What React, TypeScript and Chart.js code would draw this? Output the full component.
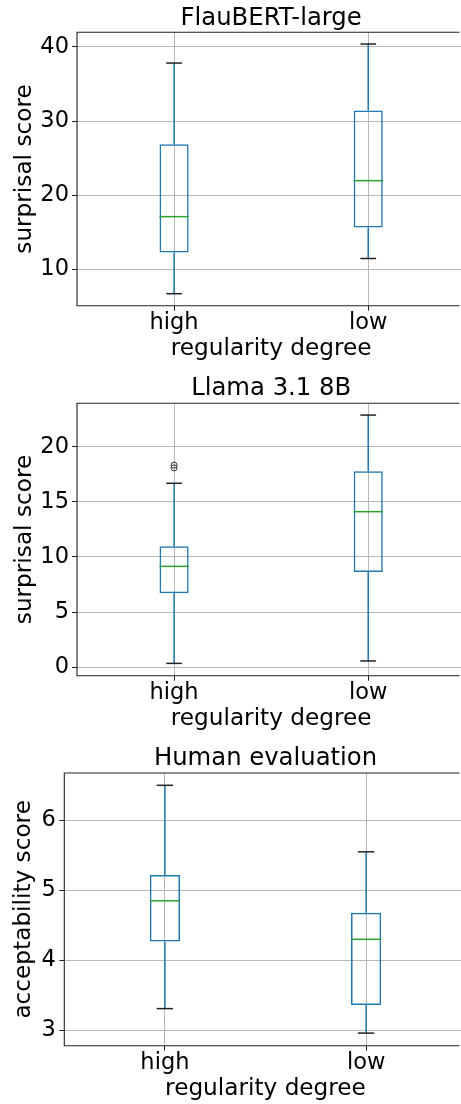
import React, { useEffect, useRef } from "react";
import { Chart, registerables } from "chart.js";

Chart.register(...registerables);

// ---------- data ----------
const CATEGORIES = ["high", "low"];
const X_TITLE = "regularity degree";

const FLAU_TITLE = "FlauBERT-large";
const FLAU_Y_TITLE = "surprisal score";
const FLAU_WHISKER_LOW = [6.7, 11.45];
const FLAU_Q1 = [12.26, 15.64];
const FLAU_MEDIAN = [17.1, 21.96];
const FLAU_Q3 = [26.87, 31.43];
const FLAU_WHISKER_HIGH = [37.83, 40.4];
const FLAU_OUTLIERS: number[][] = [[], []];
const FLAU_TICKS = [10, 20, 30, 40];
const FLAU_Y_RANGE = [5.08, 41.98];

const LLAMA_TITLE = "Llama 3.1 8B";
const LLAMA_Y_TITLE = "surprisal score";
const LLAMA_WHISKER_LOW = [0.33, 0.55];
const LLAMA_Q1 = [6.7, 8.64];
const LLAMA_MEDIAN = [9.15, 14.12];
const LLAMA_Q3 = [10.97, 17.79];
const LLAMA_WHISKER_HIGH = [16.7, 22.9];
const LLAMA_OUTLIERS: number[][] = [[18.1, 18.35], []];
const LLAMA_TICKS = [0, 5, 10, 15, 20];
const LLAMA_Y_RANGE = [-0.79, 23.97];

const HUMAN_TITLE = "Human evaluation";
const HUMAN_Y_TITLE = "acceptability score";
const HUMAN_WHISKER_LOW = [3.31, 2.96];
const HUMAN_Q1 = [4.27, 3.36];
const HUMAN_MEDIAN = [4.85, 4.3];
const HUMAN_Q3 = [5.22, 4.68];
const HUMAN_WHISKER_HIGH = [6.5, 5.55];
const HUMAN_OUTLIERS: number[][] = [[], []];
const HUMAN_TICKS = [3, 4, 5, 6];
const HUMAN_Y_RANGE = [2.78, 6.676];

// ---------- styling ----------
const FONT = "'DejaVu Sans', 'Liberation Sans', sans-serif";
const BLUE = "#1f77b4";
const GREEN = "#2ca02c";
const GRID = "#b8b8b8";
const SPINE = "#222222";
const CANVAS_W = 480;
const VISIBLE_W = 461;
const TICK_SIZE = 22.5;
const LABEL_SIZE = 23.2;
const TITLE_SIZE = 24.3;
const MID_K = 0.32;

type PanelData = {
  title: string;
  yTitle: string;
  low: number[];
  q1: number[];
  med: number[];
  q3: number[];
  high: number[];
  outliers: number[][];
  ticks: number[];
  range: number[];
};

type PanelLayout = {
  top: number;
  height: number;
  chartTop: number;
  chartBottom: number;
  chartLeft: number;
  chartRight: number;
  titleBaseline: number;
  yTitleMid: number;
  yTickPad: number;
};

function BoxPanel({ data, layout }: { data: PanelData; layout: PanelLayout }) {
  const ref = useRef<HTMLCanvasElement>(null);

  useEffect(() => {
    if (!ref.current) return;
    const L = layout;
    const d = data;
    const titleMid = L.titleBaseline - MID_K * TITLE_SIZE;
    const titlePadTop = titleMid - TITLE_SIZE / 2;
    const titlePadBottom = L.chartTop - titlePadTop - TITLE_SIZE;
    const xTitleMid = 50.3 - MID_K * LABEL_SIZE;
    const xScaleH = xTitleMid + (LABEL_SIZE * 1.2) / 2;
    const xTickMid = 25 - MID_K * TICK_SIZE;
    const xTickLen = 5;
    const xTickPad = xTickMid - (TICK_SIZE * 1.2) / 2 - xTickLen;

    const outlierPoints: { x: string; y: number }[] = [];
    d.outliers.forEach((arr, i) =>
      arr.forEach((v) => outlierPoints.push({ x: CATEGORIES[i], y: v }))
    );

    const boxParts = {
      id: "boxParts",
      afterDatasetsDraw(chart: any) {
        const ctx = chart.ctx as CanvasRenderingContext2D;
        const xs = chart.scales.x;
        const ys = chart.scales.y;
        const meta = chart.getDatasetMeta(0);
        const line = (x1: number, y1: number, x2: number, y2: number) => {
          ctx.beginPath();
          ctx.moveTo(x1, y1);
          ctx.lineTo(x2, y2);
          ctx.stroke();
        };
        ctx.save();
        CATEGORIES.forEach((_, i) => {
          const cx = xs.getPixelForValue(i);
          const bw = meta.data[i].width;
          const pHi = ys.getPixelForValue(d.high[i]);
          const pQ3 = ys.getPixelForValue(d.q3[i]);
          const pMed = ys.getPixelForValue(d.med[i]);
          const pQ1 = ys.getPixelForValue(d.q1[i]);
          const pLo = ys.getPixelForValue(d.low[i]);
          ctx.lineWidth = 1.5;
          ctx.strokeStyle = BLUE;
          line(cx, pQ3, cx, pHi);
          line(cx, pQ1, cx, pLo);
          ctx.strokeStyle = "#222222";
          line(cx - bw * 0.27, pHi, cx + bw * 0.27, pHi);
          line(cx - bw * 0.27, pLo, cx + bw * 0.27, pLo);
          ctx.strokeStyle = GREEN;
          line(cx - bw / 2, pMed, cx + bw / 2, pMed);
        });
        ctx.restore();
      },
      afterDraw(chart: any) {
        const ctx = chart.ctx as CanvasRenderingContext2D;
        const a = chart.chartArea;
        const xEnd = Math.min(a.right, VISIBLE_W - 1.5);
        ctx.save();
        ctx.strokeStyle = SPINE;
        ctx.lineWidth = 1.1;
        ctx.beginPath();
        ctx.moveTo(xEnd, a.top);
        ctx.lineTo(a.left, a.top);
        ctx.lineTo(a.left, a.bottom);
        ctx.lineTo(xEnd, a.bottom);
        ctx.stroke();
        ctx.restore();
      },
    };

    const chart = new Chart(ref.current, {
      type: "bar",
      data: {
        labels: CATEGORIES,
        datasets: [
          {
            type: "bar",
            data: CATEGORIES.map((_, i) => [d.q1[i], d.q3[i]]) as any,
            backgroundColor: "rgba(0,0,0,0)",
            borderColor: BLUE,
            borderWidth: 1.5,
            borderSkipped: false,
            categoryPercentage: 1,
            barPercentage: 0.15,
          } as any,
          {
            type: "line",
            data: outlierPoints as any,
            showLine: false,
            pointRadius: 3,
            pointBorderWidth: 1,
            pointBorderColor: "#333333",
            pointBackgroundColor: "rgba(0,0,0,0)",
            borderColor: "#333333",
          } as any,
        ],
      },
      options: {
        animation: false,
        responsive: false,
        devicePixelRatio: 1,
        layout: {
          padding: {
            left: 0,
            top: 0,
            right: CANVAS_W - L.chartRight,
            bottom: L.height - (L.chartBottom + xScaleH),
          },
        },
        plugins: {
          legend: { display: false },
          tooltip: { enabled: false },
          title: {
            display: true,
            text: d.title,
            fullSize: false,
            color: "#000000",
            font: { family: FONT, size: TITLE_SIZE, weight: "normal", lineHeight: 1 },
            padding: { top: titlePadTop, bottom: titlePadBottom },
          },
        },
        scales: {
          x: {
            type: "category",
            offset: true,
            grid: {
              offset: false,
              color: GRID,
              lineWidth: 1,
              tickLength: xTickLen,
              tickColor: SPINE,
              tickWidth: 1,
              drawTicks: true,
            },
            border: { display: false },
            ticks: {
              color: "#000000",
              padding: xTickPad,
              font: { family: FONT, size: TICK_SIZE, lineHeight: 1.2 },
              maxRotation: 0,
            },
            title: {
              display: true,
              text: X_TITLE,
              color: "#000000",
              font: { family: FONT, size: LABEL_SIZE, lineHeight: 1.2 },
              padding: { top: 0, bottom: 0 },
            },
            afterFit(s: any) {
              s.height = xScaleH;
            },
          } as any,
          y: {
            type: "linear",
            min: d.range[0],
            max: d.range[1],
            bounds: "data",
            afterBuildTicks(s: any) {
              s.ticks = d.ticks.map((v) => ({ value: v }));
            },
            grid: {
              color: GRID,
              lineWidth: 1,
              tickLength: 5,
              tickColor: SPINE,
              tickWidth: 1,
            },
            border: { display: false },
            ticks: {
              color: "#000000",
              padding: L.yTickPad,
              font: { family: FONT, size: TICK_SIZE, lineHeight: 1.2 },
            },
            title: {
              display: true,
              text: d.yTitle,
              color: "#000000",
              font: { family: FONT, size: LABEL_SIZE, lineHeight: 1.2 },
              padding: { top: L.yTitleMid - (LABEL_SIZE * 1.2) / 2, bottom: 0 },
            },
            afterFit(s: any) {
              s.width = L.chartLeft;
            },
          } as any,
        },
      },
      plugins: [boxParts],
    } as any);

    return () => chart.destroy();
  }, [data, layout]);

  return (
    <div style={{ position: "absolute", left: 0, top: layout.top, width: CANVAS_W, height: layout.height }}>
      <canvas ref={ref} width={CANVAS_W} height={layout.height} style={{ display: "block" }} />
    </div>
  );
}

const PANELS: { data: PanelData; layout: PanelLayout }[] = [
  {
    data: {
      title: FLAU_TITLE,
      yTitle: FLAU_Y_TITLE,
      low: FLAU_WHISKER_LOW,
      q1: FLAU_Q1,
      med: FLAU_MEDIAN,
      q3: FLAU_Q3,
      high: FLAU_WHISKER_HIGH,
      outliers: FLAU_OUTLIERS,
      ticks: FLAU_TICKS,
      range: FLAU_Y_RANGE,
    },
    layout: {
      top: 0,
      height: 370,
      chartTop: 32.3,
      chartBottom: 305.7,
      chartLeft: 77,
      chartRight: 465.3,
      titleBaseline: 26,
      yTitleMid: 25,
      yTickPad: 3,
    },
  },
  {
    data: {
      title: LLAMA_TITLE,
      yTitle: LLAMA_Y_TITLE,
      low: LLAMA_WHISKER_LOW,
      q1: LLAMA_Q1,
      med: LLAMA_MEDIAN,
      q3: LLAMA_Q3,
      high: LLAMA_WHISKER_HIGH,
      outliers: LLAMA_OUTLIERS,
      ticks: LLAMA_TICKS,
      range: LLAMA_Y_RANGE,
    },
    layout: {
      top: 370,
      height: 370,
      chartTop: 33.3,
      chartBottom: 305.7,
      chartLeft: 77,
      chartRight: 465.3,
      titleBaseline: 26.7,
      yTitleMid: 25,
      yTickPad: 3,
    },
  },
  {
    data: {
      title: HUMAN_TITLE,
      yTitle: HUMAN_Y_TITLE,
      low: HUMAN_WHISKER_LOW,
      q1: HUMAN_Q1,
      med: HUMAN_MEDIAN,
      q3: HUMAN_Q3,
      high: HUMAN_WHISKER_HIGH,
      outliers: HUMAN_OUTLIERS,
      ticks: HUMAN_TICKS,
      range: HUMAN_Y_RANGE,
    },
    layout: {
      top: 740,
      height: 364,
      chartTop: 33,
      chartBottom: 305.7,
      chartLeft: 64.3,
      chartRight: 466.7,
      titleBaseline: 26.7,
      yTitleMid: 24,
      yTickPad: 3.5,
    },
  },
];

export default function App() {
  return (
    <div
      style={{
        position: "absolute",
        left: 0,
        top: 0,
        width: VISIBLE_W,
        height: 1104,
        overflow: "hidden",
        background: "#ffffff",
      }}
    >
      {PANELS.map((p, i) => (
        <BoxPanel key={i} data={p.data} layout={p.layout} />
      ))}
    </div>
  );
}
